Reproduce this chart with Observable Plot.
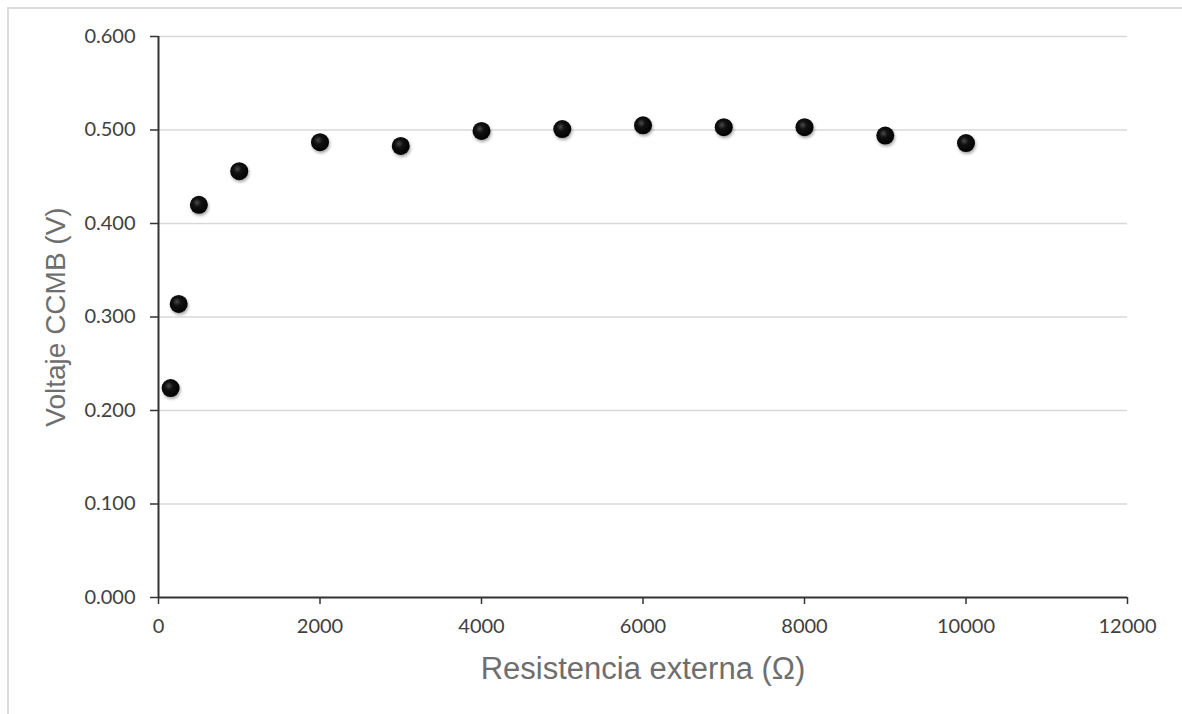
<!DOCTYPE html>
<html>
<head>
<meta charset="utf-8">
<script src="https://cdn.jsdelivr.net/npm/d3@7"></script>
<script src="https://cdn.jsdelivr.net/npm/@observablehq/plot@0.6"></script>
<style>
  html, body { margin: 0; padding: 0; background: #fff; overflow: hidden; }
  #wrap { position: relative; width: 1182px; height: 714px; }
  #frame { position: absolute; left: 7px; top: 7px; width: 1300px; height: 800px;
           border-left: 2px solid #dcdcdc; border-top: 2px solid #dcdcdc; }
  #chart { position: absolute; left: 0; top: 0; }
  #chart g[aria-label="dot"] { filter: drop-shadow(1px 2px 1.5px rgba(0,0,0,0.35)); }
</style>
</head>
<body>
<div id="wrap"><div id="frame"></div><div id="chart"></div></div>
<script>
// Data
const resistencia = [150, 250, 500, 1000, 2000, 3000, 4000, 5000, 6000, 7000, 8000, 9000, 10000];
const voltaje = [0.224, 0.314, 0.420, 0.456, 0.487, 0.483, 0.499, 0.501, 0.505, 0.503, 0.503, 0.494, 0.486];
const xTicks = [0, 2000, 4000, 6000, 8000, 10000, 12000];
const yTicks = [0, 0.1, 0.2, 0.3, 0.4, 0.5, 0.6];
const xTitle = "Resistencia externa (Ω)";
const yTitle = "Voltaje CCMB (V)";

const data = resistencia.map((r, i) => ({r, v: voltaje[i]}));

const chart = Plot.plot({
  width: 1182,
  height: 714,
  marginLeft: 158,
  marginRight: 55,
  marginTop: 36,
  marginBottom: 117,
  style: {fontFamily: "Lato, 'Open Sans', sans-serif", fontSize: "20px", color: "#404040", background: "transparent", overflow: "visible"},
  x: {domain: [0, 12000]},
  y: {domain: [0, 0.6]},
  marks: [
    Plot.ruleY(yTicks.slice(1), {stroke: "#d9d9d9", strokeWidth: 1.5, strokeOpacity: 1}),
    Plot.axisY({ticks: yTicks, tickFormat: d => d.toFixed(3), tickSize: 8, tickPadding: 15, label: null, stroke: "#333", strokeWidth: 1.5, fill: "#404040"}),
    Plot.axisX({ticks: xTicks, tickFormat: d => String(d), tickSize: 7, tickPadding: 14, label: null, stroke: "#333", strokeWidth: 1.5, fill: "#404040"}),
    Plot.ruleX([0], {stroke: "#333", strokeWidth: 2}),
    Plot.ruleY([0], {stroke: "#333", strokeWidth: 2}),
    Plot.dot(data, {x: "r", y: "v", r: 9, fill: "url(#ball)", stroke: "none"}),
    Plot.text([xTitle], {frameAnchor: "bottom", dy: 72, lineAnchor: "middle", fontSize: 31, fill: "#6e6e6e", fontFamily: "'Liberation Sans', Arial, sans-serif"}),
    Plot.text([yTitle], {frameAnchor: "left", dx: -102, rotate: -90, lineAnchor: "middle", textAnchor: "middle", fontSize: 28, fill: "#6e6e6e", fontFamily: "'Liberation Sans', Arial, sans-serif"})
  ]
});

const ns = "http://www.w3.org/2000/svg";
const defs = document.createElementNS(ns, "defs");
defs.innerHTML = '<radialGradient id="ball" cx="0.4" cy="0.38" r="0.65">' +
  '<stop offset="0" stop-color="#4a4a4a"/>' +
  '<stop offset="0.35" stop-color="#111"/>' +
  '<stop offset="1" stop-color="#000"/></radialGradient>';
chart.insertBefore(defs, chart.firstChild);
document.getElementById("chart").appendChild(chart);
</script>
</body>
</html>
